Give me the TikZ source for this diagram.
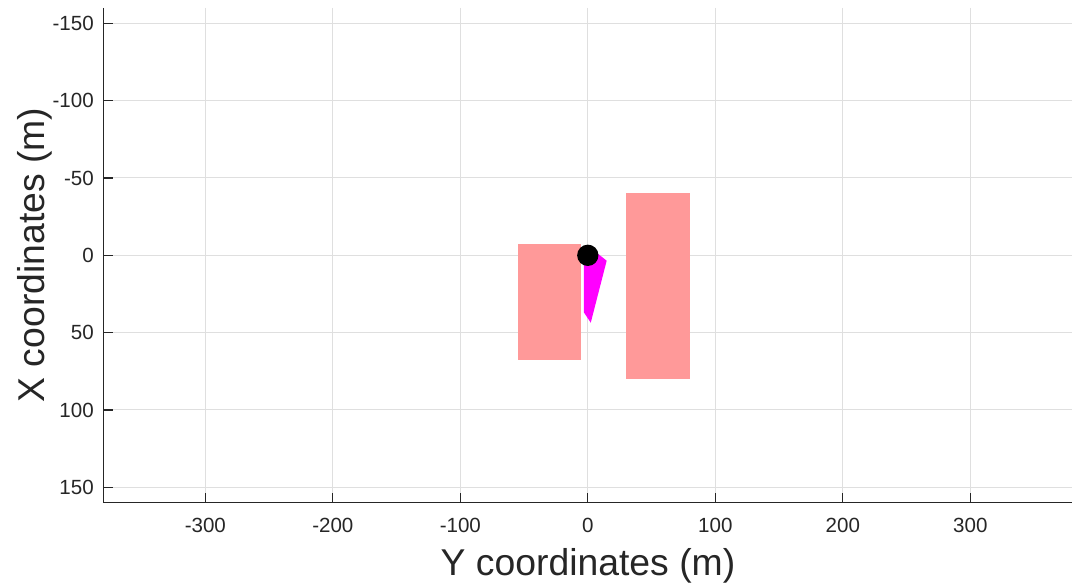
\documentclass[tikz,border=0pt]{standalone}
\usepackage{fontspec}
\setmainfont{Liberation Sans}
\definecolor{axcol}{RGB}{38,38,38}
\definecolor{gridcol}{RGB}{223,223,223}
\definecolor{obst}{RGB}{255,153,153}
\definecolor{conecol}{RGB}{255,0,255}
\begin{document}
\begin{tikzpicture}[x=0.75pt,y=-0.75pt,
  ticklab/.style={text=axcol,inner sep=0pt,font=\fontsize{15.4}{18}\selectfont},
  axlab/.style={text=axcol,inner sep=0pt,font=\fontsize{28}{32}\selectfont},
  gridline/.style={draw=gridcol,line width=0.75pt},
  axline/.style={draw=axcol,line width=1pt}]
\useasboundingbox[fill=white] (0,0) rectangle (1088,586);
\begin{scope}[shift={(587.8,255.3)},x=0.95625pt,y=-1.16pt]
  % grid
  \foreach \v in {-300,-200,...,300} \draw[gridline] (\v,-160) -- (\v,160);
  \foreach \v in {-150,-100,...,150} \draw[gridline] (-380,\v) -- (380,\v);
  % obstacles
  \fill[obst] (-55,-7.5) rectangle (-5,67.5);
  \fill[obst] (30,-40) rectangle (80,80);
  % sensor cone
  \fill[conecol] (-3,2) -- (-3,37) -- (2.3,43.6) -- (14.8,3.5) -- (8,-1) -- cycle;
  % vehicle
  \fill[black] (0,0) circle[radius=8pt];
  % axes
  \draw[axline] (-380,-160) -- (-380,160) -- (380,160);
  \foreach \v in {-150,-100,...,150} {
    \draw[axline] (-380,\v) -- ++(7pt,0);
    \node[ticklab,anchor=east,xshift=-7pt] (yt\v) at (-380,\v) {\v};
  }
  \foreach \v in {-300,-200,...,300} {
    \draw[axline] (\v,160) -- ++(0,7pt);
    \node[ticklab,anchor=north,yshift=-11pt] (xt\v) at (\v,160) {\v};
  }
\end{scope}
\node[axlab] (xlabel) at (588,566) {Y coordinates (m)};
\node[axlab,rotate=90] (ylabel) at (35,255) {X coordinates (m)};
\end{tikzpicture}
\end{document}
